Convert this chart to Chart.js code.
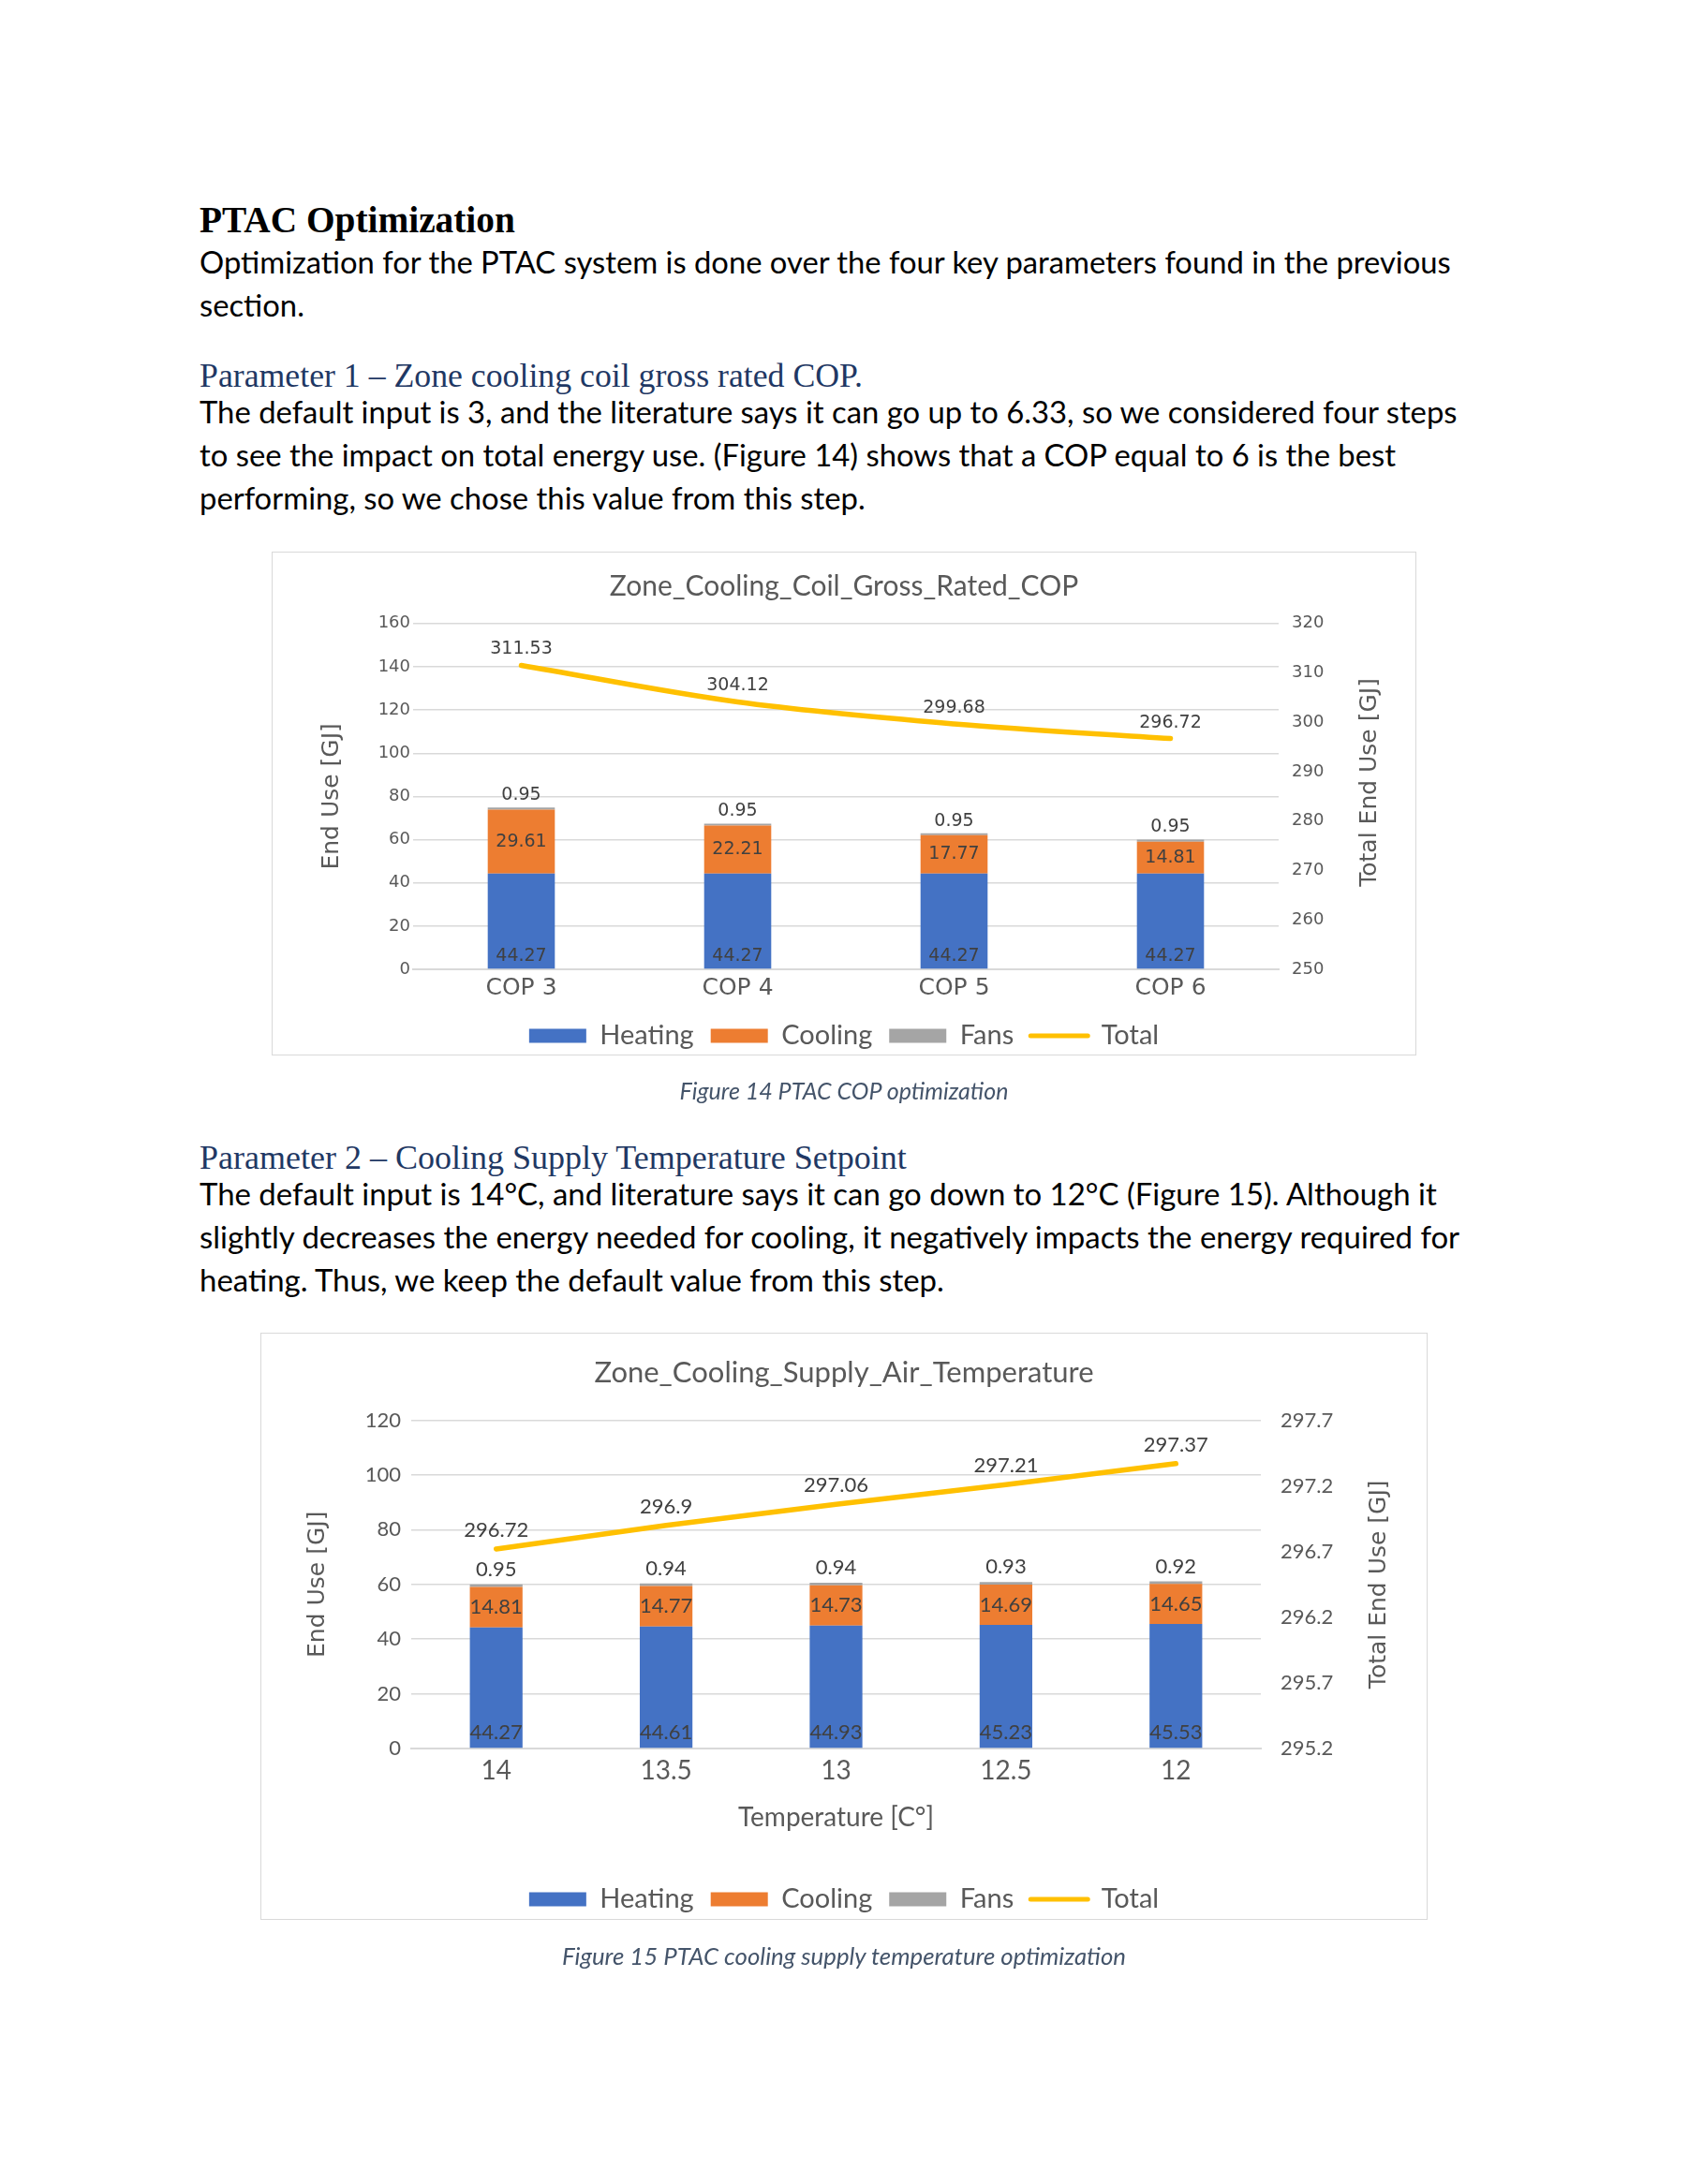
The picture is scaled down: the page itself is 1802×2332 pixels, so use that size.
<!DOCTYPE html>
<html>
<head>
<meta charset="utf-8">
<script src="https://cdn.jsdelivr.net/npm/chart.js@4.4.0/dist/chart.umd.min.js"></script>
<style>
  html, body { margin: 0; padding: 0; background: #fff; }
  body { width: 1802px; height: 2332px; position: relative; overflow: hidden; font-family: Lato, sans-serif; color: #000; }
  .ln { position: absolute; left: 213px; white-space: nowrap; line-height: 46px; font-size: 30px; }
  .h1 { font-family: "Liberation Serif", serif; font-weight: bold; font-size: 36px; }
  .h2 { font-family: "Liberation Serif", serif; font-size: 33px; color: #1F3864; }
  .cap { position: absolute; left: 0; width: 1802px; text-align: center; font-style: italic; font-size: 24px; color: #44546A; line-height: 40px; }
  .cap span { display: inline-block; }
  .frame { position: absolute; border: 1.5px solid #D9D9D9; box-sizing: border-box; }
  .chart { position: absolute; }
</style>
</head>
<body>

<div class="ln h1" style="top:212px" data-w="337">PTAC Optimization</div>
<div class="ln" style="top:257px" data-w="1336">Optimization for the PTAC system is done over the four key parameters found in the previous</div>
<div class="ln" style="top:303px" data-same="1">section.</div>

<div class="ln h2" style="top:378px" data-w="708">Parameter 1 – Zone cooling coil gross rated COP.</div>
<div class="ln" style="top:417px" data-w="1343">The default input is 3, and the literature says it can go up to 6.33, so we considered four steps</div>
<div class="ln" style="top:463px" data-same="1">to see the impact on total energy use. (Figure 14) shows that a COP equal to 6 is the best</div>
<div class="ln" style="top:509px" data-same="1">performing, so we chose this value from this step.</div>

<div class="frame" style="left:290px; top:589px; width:1222px; height:538px"></div>
<div class="chart" style="left:290px; top:589px; width:1222px; height:580px"><canvas id="copChart"></canvas></div>

<div class="cap" style="top:1144px"><span data-w="351">Figure 14 PTAC COP optimization</span></div>

<div class="ln h2" style="top:1213px" data-w="755">Parameter 2 – Cooling Supply Temperature Setpoint</div>
<div class="ln" style="top:1251px" data-after="1">The default input is 14°C, and literature says it can go down to 12°C (Figure 15). Although it</div>
<div class="ln" style="top:1297px" data-w="1346">slightly decreases the energy needed for cooling, it negatively impacts the energy required for</div>
<div class="ln" style="top:1343px" data-same="1">heating. Thus, we keep the default value from this step.</div>

<div class="frame" style="left:278px; top:1423px; width:1246px; height:627px"></div>
<div class="chart" style="left:278px; top:1423px; width:1246px; height:667px"><canvas id="satChart"></canvas></div>

<div class="cap" style="top:2068px"><span data-w="602">Figure 15 PTAC cooling supply temperature optimization</span></div>

<script>
// Parameter 1 - cooling coil COP
const copCategories = ["COP 3", "COP 4", "COP 5", "COP 6"];
const copHeating = [44.27, 44.27, 44.27, 44.27];
const copCooling = [29.61, 22.21, 17.77, 14.81];
const copFans = [0.95, 0.95, 0.95, 0.95];
const copTotal = [311.53, 304.12, 299.68, 296.72];
const copLeftTicks = [0, 20, 40, 60, 80, 100, 120, 140, 160];
const copRightTicks = [250, 260, 270, 280, 290, 300, 310, 320];

// Parameter 2 - cooling supply air temperature
const satCategories = ["14", "13.5", "13", "12.5", "12"];
const satHeating = [44.27, 44.61, 44.93, 45.23, 45.53];
const satCooling = [14.81, 14.77, 14.73, 14.69, 14.65];
const satFans = [0.95, 0.94, 0.94, 0.93, 0.92];
const satTotal = [296.72, 296.9, 297.06, 297.21, 297.37];
const satLeftTicks = [0, 20, 40, 60, 80, 100, 120];
const satRightTicks = [295.2, 295.7, 296.2, 296.7, 297.2, 297.7];

// fit text lines to the widths measured on the page
let lastSize = 30;
document.querySelectorAll("[data-w], [data-same]").forEach(el => {
    if (el.dataset.w) {
        const fs = parseFloat(getComputedStyle(el).fontSize);
        const w = el.getBoundingClientRect().width;
        lastSize = fs * el.dataset.w / w;
        el.style.fontSize = lastSize + "px";
    } else {
        el.style.fontSize = lastSize + "px";
    }
});
document.querySelectorAll("[data-after]").forEach(el => {
    el.style.fontSize = el.nextElementSibling.style.fontSize;
});

const valueLabels = {
    id: "valueLabels",
    afterDatasetsDraw(chart, args, opts) {
        const ctx = chart.ctx;
        ctx.save();
        ctx.font = opts.font;
        ctx.fillStyle = opts.color;
        ctx.textAlign = "center";
        ctx.textBaseline = "middle";
        chart.data.datasets.forEach((ds, i) => {
            const meta = chart.getDatasetMeta(i);
            meta.data.forEach((el, j) => {
                let y;
                if (ds.labelPos === "base") {
                    y = el.base - opts.baseGap;
                } else if (ds.labelPos === "middle") {
                    y = (el.y + el.base) / 2;
                } else if (ds.labelPos === "top") {
                    y = el.y - opts.topGap;
                } else {
                    y = el.y - opts.lineGap;
                }
                ctx.fillText(String(ds.data[j]), el.x, y);
            });
        });
        ctx.restore();
    }
};

// right axis title reads bottom to top, like the left one
const sideTitle = {
    id: "sideTitle",
    afterDraw(chart, args, opts) {
        const ctx = chart.ctx;
        const area = chart.chartArea;
        ctx.save();
        ctx.translate(opts.x, (area.top + area.bottom) / 2 + opts.dy);
        ctx.rotate(-Math.PI / 2);
        ctx.font = opts.font;
        ctx.fillStyle = opts.color;
        ctx.textAlign = "center";
        ctx.textBaseline = "middle";
        ctx.fillText(opts.text, 0, 0);
        ctx.restore();
    }
};

function legendItems(chart) {
    const items = Chart.defaults.plugins.legend.labels.generateLabels(chart);
    items.forEach(it => {
        const ds = chart.data.datasets[it.datasetIndex];
        if (ds.type === "line") {
            it.pointStyle = "line";
            it.strokeStyle = ds.borderColor;
            it.lineWidth = 5;
            it.lineCap = "round";
        } else {
            it.pointStyle = "rect";
            it.lineWidth = 0;
        }
    });
    return items;
}

function buildChart(canvasId, cfg) {
    const ctx = document.getElementById(canvasId).getContext("2d");
    return new Chart(ctx, {
        type: "bar",
        plugins: [valueLabels, sideTitle],
        data: {
            labels: cfg.labels,
            datasets: [
                { label: "Heating", data: cfg.heating, backgroundColor: "#4472C4", yAxisID: "y", labelPos: "base" },
                { label: "Cooling", data: cfg.cooling, backgroundColor: "#ED7D31", yAxisID: "y", labelPos: "middle" },
                { label: "Fans", data: cfg.fans, backgroundColor: "#A5A5A5", yAxisID: "y", labelPos: "top" },
                {
                    type: "line",
                    label: "Total",
                    data: cfg.total,
                    borderColor: "#FFC000",
                    backgroundColor: "#FFC000",
                    borderWidth: 5.5,
                    borderCapStyle: "round",
                    pointRadius: 0,
                    cubicInterpolationMode: cfg.smooth ? "monotone" : "default",
                    tension: 0,
                    yAxisID: "y1",
                    labelPos: "line"
                }
            ]
        },
        options: {
            responsive: true,
            maintainAspectRatio: false,
            animation: false,
            datasets: { bar: { barPercentage: 1, categoryPercentage: 0.31 } },
            layout: { padding: { left: 0, right: 0, top: 0, bottom: cfg.padBottom } },
            plugins: {
                tooltip: { enabled: false },
                title: {
                    display: true,
                    text: cfg.title,
                    color: "#595959",
                    font: { family: "Lato", size: cfg.titleSize, weight: "normal" },
                    padding: cfg.titlePad
                },
                legend: {
                    position: "bottom",
                    maxHeight: 50,
                    labels: {
                        usePointStyle: true,
                        pointStyleWidth: 61,
                        boxHeight: 15,
                        padding: 18,
                        color: "#595959",
                        font: { family: "Lato", size: 29 },
                        generateLabels: legendItems
                    }
                },
                valueLabels: cfg.valueLabels,
                sideTitle: {
                    text: "Total End Use [GJ]",
                    x: cfg.rightTitleX,
                    dy: cfg.rightTitleDy,
                    font: "25px 'DejaVu Sans'",
                    color: "#595959"
                }
            },
            scales: {
                x: {
                    stacked: true,
                    grid: { display: false },
                    border: { display: true, color: "#D9D9D9", width: 2 },
                    ticks: { color: "#595959", padding: cfg.xTickPad, font: cfg.xFont },
                    title: cfg.xTitle,
                    afterFit: scale => { scale.height = cfg.xHeight; }
                },
                y: {
                    stacked: true,
                    position: "left",
                    min: cfg.leftTicks[0],
                    max: cfg.leftTicks[cfg.leftTicks.length - 1],
                    afterBuildTicks: scale => { scale.ticks = cfg.leftTicks.map(v => ({ value: v })); },
                    grid: { color: "#D9D9D9", lineWidth: 1.5, drawTicks: false },
                    border: { display: false },
                    ticks: { color: "#595959", padding: cfg.leftPad, font: cfg.tickFont, callback: v => String(v) },
                    title: {
                        display: true,
                        text: "End Use [GJ]",
                        color: "#595959",
                        font: { family: "DejaVu Sans", size: 25 },
                        padding: { top: cfg.leftTitlePad, bottom: 0 }
                    },
                    afterFit: scale => { scale.width = cfg.leftWidth; }
                },
                y1: {
                    position: "right",
                    min: cfg.rightTicks[0],
                    max: cfg.rightTicks[cfg.rightTicks.length - 1],
                    afterBuildTicks: scale => { scale.ticks = cfg.rightTicks.map(v => ({ value: v })); },
                    grid: { display: false },
                    border: { display: false },
                    ticks: { color: "#595959", padding: cfg.rightPad, font: cfg.tickFont, callback: v => String(v) },
                    afterFit: scale => { scale.width = cfg.rightWidth; }
                }
            }
        }
    });
}

document.fonts.ready.then(() => {
    buildChart("copChart", {
        title: "Zone_Cooling_Coil_Gross_Rated_COP",
        titleSize: 30,
        labels: copCategories,
        heating: copHeating,
        cooling: copCooling,
        fans: copFans,
        total: copTotal,
        leftTicks: copLeftTicks,
        rightTicks: copRightTicks,
        smooth: true,
        padBottom: 45.5,
        titlePad: { top: 19.8, bottom: 21 },
        xHeight: 38.5,
        xTickPad: -3,
        xFont: { family: "DejaVu Sans", size: 25 },
        xTitle: { display: false },
        tickFont: { family: "DejaVu Sans", size: 18 },
        leftPad: 3,
        rightPad: 6,
        leftWidth: 151,
        rightWidth: 147,
        leftTitlePad: 49,
        rightTitleX: 1172,
        rightTitleDy: -15,
        valueLabels: { font: "19px 'DejaVu Sans'", color: "#404040", baseGap: 13, topGap: 13, lineGap: 17 }
    });

    buildChart("satChart", {
        title: "Zone_Cooling_Supply_Air_Temperature",
        titleSize: 31,
        labels: satCategories,
        heating: satHeating,
        cooling: satCooling,
        fans: satFans,
        total: satTotal,
        leftTicks: satLeftTicks,
        rightTicks: satRightTicks,
        smooth: false,
        padBottom: 44.5,
        titlePad: { top: 24.4, bottom: 32 },
        xHeight: 128.5,
        xTickPad: -1,
        xFont: { family: "Lato", size: 28 },
        xTitle: {
            display: true,
            text: "Temperature [C°]",
            color: "#595959",
            font: { family: "Lato", size: 28 },
            padding: { top: 0, bottom: 38 }
        },
        tickFont: { family: "Lato", size: 22 },
        leftPad: 11,
        rightPad: 13,
        leftWidth: 161,
        rightWidth: 178,
        leftTitlePad: 46,
        rightTitleX: 1194,
        rightTitleDy: 0,
        valueLabels: { font: "22px Lato", color: "#404040", baseGap: 16, topGap: 16, lineGap: 20 }
    });
});
</script>
</body>
</html>
